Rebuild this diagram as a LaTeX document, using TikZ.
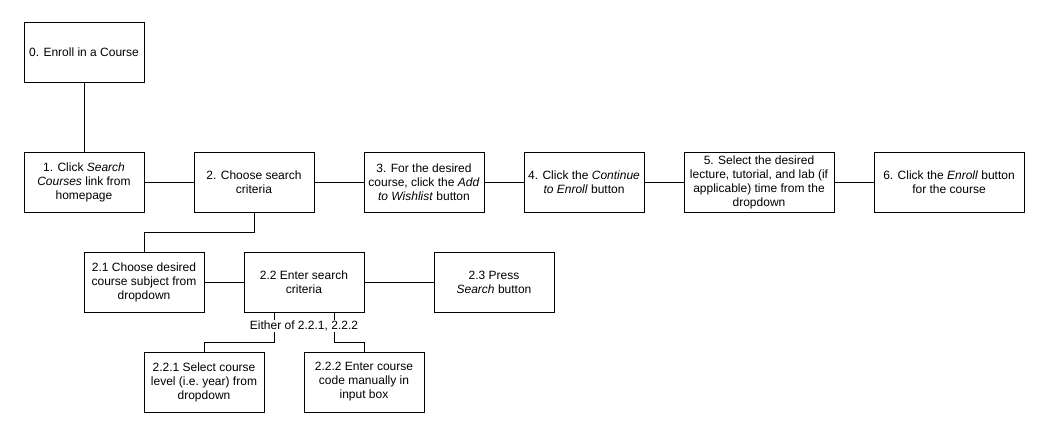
\documentclass[tikz,border=0pt]{standalone}
\usepackage{fontspec}
\setmainfont{Liberation Sans}
\usepackage{tikz}

\begin{document}
\begin{tikzpicture}[x=1pt,y=-1pt,
    box/.style={draw,rectangle,line width=0.8pt,minimum width=120pt,minimum height=60pt,align=center,inner sep=2pt},
    wide/.style={box,minimum width=150pt},
    font=\fontsize{12}{14}\selectfont]
    \useasboundingbox (0,0) rectangle (1050,423);

    \node[box] (0) at (84,52) {0. Enroll in a Course};

    \node[box] (1) at (84,182) {1. Click \textit{Search}\\\textit{Courses} link from\\homepage};
    \node[box] (2) at (254,182) {2. Choose search\\criteria};
    \node[box] (3) at (424,182) {3. For the desired\\course, click the \textit{Add}\\\textit{to Wishlist} button};
    \node[box] (4) at (584,182) {4. Click the \textit{Continue}\\\textit{to Enroll} button};
    \node[wide] (5) at (759,182) {5. Select the desired\\lecture, tutorial, and lab (if\\applicable) time from the\\dropdown};
    \node[wide] (6) at (949,182) {6. Click the \textit{Enroll} button\\for the course};

    \draw[line width=0.8pt] (0) -- (1);
    \draw[line width=0.8pt] (1) -- (2) -- (3) -- (4) -- (5) -- (6);

    \node[box] (21) at (144,282) {2.1 Choose desired\\course subject from\\dropdown};
    \node[box] (22) at (304,282) {2.2 Enter search\\criteria};
    \node[box] (23) at (494,282) {2.3 Press\\\textit{Search} button};

    \draw[line width=0.8pt] (2.south) -- ++(0,20) -| (21.north);
    \draw[line width=0.8pt] (21) -- (22) -- (23);

    \node[box] (221) at (204,382) {2.2.1 Select course\\level (i.e.\ year) from\\dropdown};
    \node[box] (222) at (364,382) {2.2.2 Enter course\\code manually in\\input box};

    \draw[line width=0.8pt] ([xshift=-30pt]22.south) -- ++(0,30) -| (221.north);
    \draw[line width=0.8pt] ([xshift=30pt]22.south) -- ++(0,30) -| (222.north);
    \node[fill=white,inner sep=1pt] (either) at (304,326) {Either of 2.2.1, 2.2.2};

\end{tikzpicture}
\end{document}
